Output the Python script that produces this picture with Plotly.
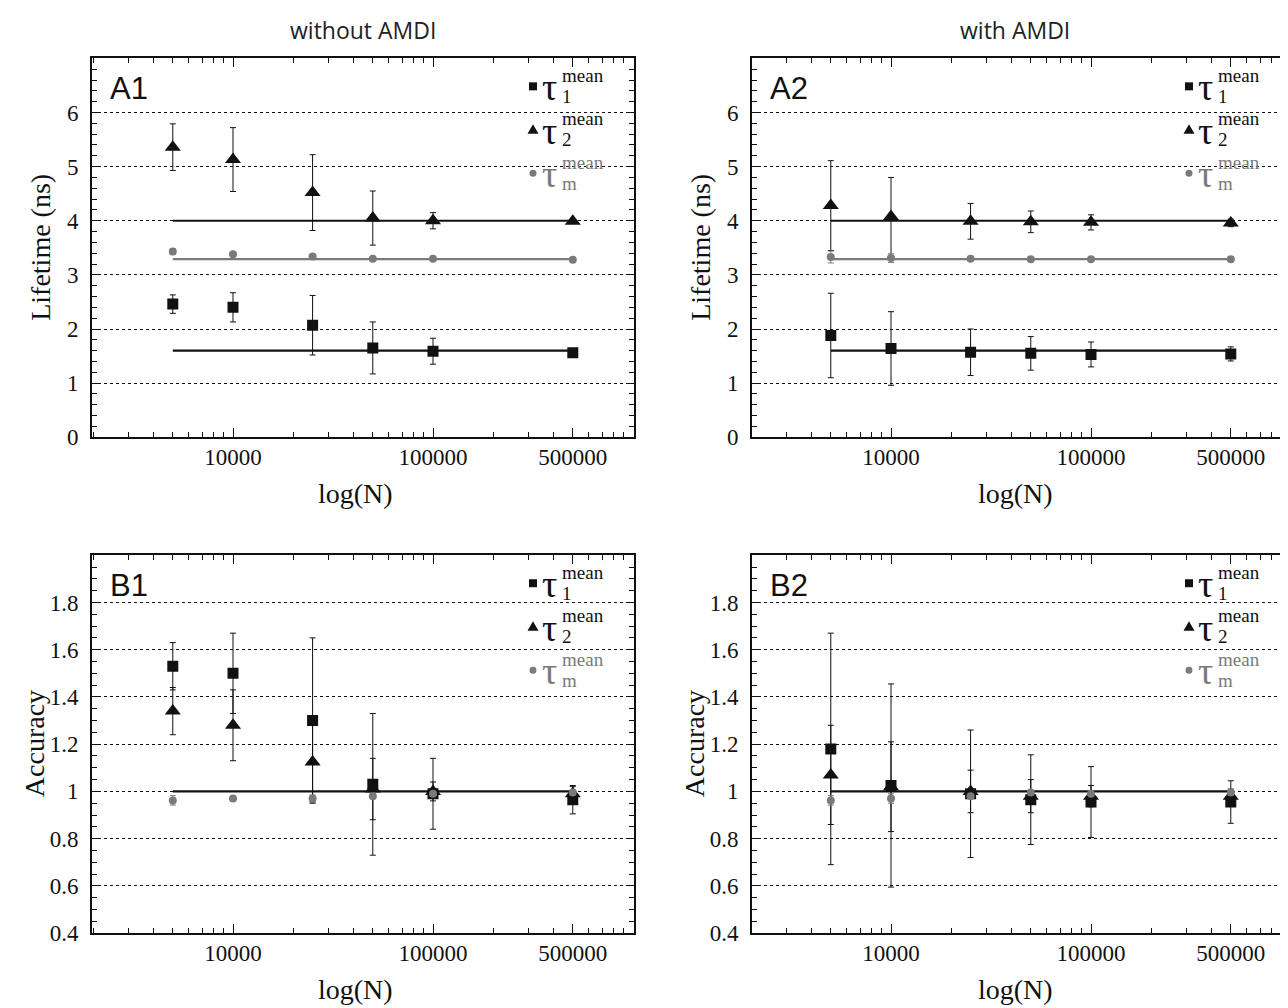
import plotly.graph_objects as go
from plotly.subplots import make_subplots

# ---------------- data ----------------
N = [5000, 10000, 25000, 50000, 100000, 500000]

# A1: lifetimes without AMDI (ns)
a1_tau1 = [2.46, 2.40, 2.07, 1.65, 1.59, 1.56]
a1_tau1_err = [0.17, 0.27, 0.55, 0.48, 0.24, 0.05]
a1_tau2 = [5.36, 5.13, 4.52, 4.05, 4.00, 3.99]
a1_tau2_err = [0.43, 0.59, 0.70, 0.50, 0.15, 0.03]
a1_taum = [3.43, 3.38, 3.34, 3.30, 3.30, 3.28]
a1_taum_err = [0.05, 0.02, 0.02, 0.01, 0.01, 0.01]

# A2: lifetimes with AMDI (ns)
a2_tau1 = [1.88, 1.64, 1.57, 1.55, 1.53, 1.54]
a2_tau1_err = [0.78, 0.68, 0.43, 0.31, 0.23, 0.13]
a2_tau2 = [4.28, 4.08, 3.99, 3.98, 3.97, 3.96]
a2_tau2_err = [0.83, 0.72, 0.33, 0.20, 0.14, 0.07]
a2_taum = [3.33, 3.31, 3.30, 3.29, 3.29, 3.29]
a2_taum_err = [0.11, 0.08, 0.02, 0.01, 0.01, 0.01]

# B1: accuracy without AMDI
b1_tau1 = [1.53, 1.50, 1.30, 1.03, 0.99, 0.965]
b1_tau1_err = [0.10, 0.17, 0.35, 0.30, 0.15, 0.06]
b1_tau2 = [1.34, 1.28, 1.125, 1.01, 1.00, 0.99]
b1_tau2_err = [0.10, 0.15, 0.17, 0.13, 0.04, 0.03]
b1_taum = [0.962, 0.97, 0.97, 0.98, 0.99, 0.995]
b1_taum_err = [0.02, 0.01, 0.015, 0.01, 0.01, 0.01]

# B2: accuracy with AMDI
b2_tau1 = [1.18, 1.025, 0.99, 0.965, 0.955, 0.955]
b2_tau1_err = [0.49, 0.43, 0.27, 0.19, 0.15, 0.09]
b2_tau2 = [1.07, 1.02, 1.00, 0.98, 0.98, 0.98]
b2_tau2_err = [0.21, 0.19, 0.09, 0.07, 0.045, 0.03]
b2_taum = [0.962, 0.97, 0.98, 0.995, 0.99, 0.995]
b2_taum_err = [0.02, 0.02, 0.01, 0.01, 0.01, 0.01]

# true (reference) values
true_tau1 = 1.6
true_tau2 = 4.0
true_taum = 3.29
true_acc = 1.0

x_tickvals = [10000, 100000, 500000]
x_ticktext = ["10000", "100000", "500000"]
x_minor = [2000, 3000, 4000, 5000, 6000, 7000, 8000, 9000,
           20000, 30000, 40000, 50000, 60000, 70000, 80000, 90000,
           200000, 300000, 400000, 500000, 600000, 700000, 800000, 900000]
a_ytick = [0, 1, 2, 3, 4, 5, 6]
b_ytick = [0.4, 0.6, 0.8, 1.0, 1.2, 1.4, 1.6, 1.8]
b_yticktext = ["0.4", "0.6", "0.8", "1", "1.2", "1.4", "1.6", "1.8"]

col_titles = ["without AMDI", "with AMDI"]
panel_labels = ["A1", "A2", "B1", "B2"]

# ---------------- layout geometry (target screenshot pixels) ----------------
OFF = 8          # page body margin
VS = 0.98743     # observed vertical scale of the capture
VB = -0.27
W, H = 1288 - 2 * OFF, 1014
RMAX = OFF + W
panels = {
    (1, 1): dict(L=92, R=634, T=58, B=437),
    (1, 2): dict(L=752, R=RMAX, T=58, B=437),
    (2, 1): dict(L=92, R=634, T=555, B=933),
    (2, 2): dict(L=752, R=RMAX, T=555, B=933),
}


def page_y(d):
    return (d - VB) / VS - OFF


def px2paper(x, y):
    return (x - OFF) / W, 1 - page_y(y) / H


BLACK = "#111111"
GRAY = "#7a7a7a"
SERIF = "Liberation Serif"

fig = make_subplots(rows=2, cols=2)


def add_panel(row, col, t1, t1e, t2, t2e, tm, tme, refs):
    for val, color in refs:
        fig.add_trace(go.Scatter(x=[N[0], N[-1]], y=[val, val], mode="lines",
                                 line=dict(color=color, width=2.2),
                                 showlegend=False, hoverinfo="skip"), row=row, col=col)
    fig.add_trace(go.Scatter(x=N, y=t1, mode="markers",
                             marker=dict(symbol="square", size=11, color=BLACK),
                             error_y=dict(type="data", array=t1e, color=BLACK, thickness=1, width=3),
                             showlegend=False), row=row, col=col)
    fig.add_trace(go.Scatter(x=N, y=t2, mode="markers",
                             marker=dict(symbol="triangle-up", size=14, color=BLACK),
                             error_y=dict(type="data", array=t2e, color=BLACK, thickness=1, width=3),
                             showlegend=False), row=row, col=col)
    fig.add_trace(go.Scatter(x=N, y=tm, mode="markers",
                             marker=dict(symbol="circle", size=8, color=GRAY),
                             error_y=dict(type="data", array=tme, color=GRAY, thickness=1, width=3),
                             showlegend=False), row=row, col=col)


add_panel(1, 1, a1_tau1, a1_tau1_err, a1_tau2, a1_tau2_err, a1_taum, a1_taum_err,
          [(true_tau2, BLACK), (true_taum, GRAY), (true_tau1, BLACK)])
add_panel(1, 2, a2_tau1, a2_tau1_err, a2_tau2, a2_tau2_err, a2_taum, a2_taum_err,
          [(true_tau2, BLACK), (true_taum, GRAY), (true_tau1, BLACK)])
add_panel(2, 1, b1_tau1, b1_tau1_err, b1_tau2, b1_tau2_err, b1_taum, b1_taum_err,
          [(true_acc, BLACK)])
add_panel(2, 2, b2_tau1, b2_tau1_err, b2_tau2, b2_tau2_err, b2_taum, b2_taum_err,
          [(true_acc, BLACK)])

tickfont = dict(family=SERIF, size=23, color=BLACK)

for (row, col), p in panels.items():
    xdom = [(p["L"] - OFF) / W, min(1.0, (p["R"] - OFF) / W)]
    ydom = [1 - page_y(p["B"]) / H, 1 - page_y(p["T"]) / H]
    width_px = p["R"] - p["L"]
    x0 = 3.295 if col == 1 else 3.305
    xr = [x0, x0 + width_px / 200.0]
    fig.update_xaxes(row=row, col=col, domain=xdom, type="log", range=xr,
                     tickvals=x_tickvals, ticktext=x_ticktext, tickfont=tickfont,
                     ticks="inside", ticklen=9, tickwidth=1.3, tickcolor=BLACK,
                     minor=dict(tickvals=x_minor, ticks="inside", ticklen=5, tickwidth=1.2,
                                tickcolor=BLACK, showgrid=False),
                     showline=True, linecolor=BLACK, linewidth=2, mirror="ticks",
                     showgrid=False, zeroline=False, ticklabelstandoff=-2)
    if row == 1:
        yk = dict(range=[0, 7], tickvals=a_ytick, ticktext=[str(v) for v in a_ytick],
                  minor=dict(dtick=0.2, tick0=0, ticks="inside", ticklen=5, tickwidth=1.2,
                             tickcolor=BLACK, showgrid=False))
    else:
        yk = dict(range=[0.4, 2.0], tickvals=b_ytick, ticktext=b_yticktext,
                  minor=dict(dtick=0.05, tick0=0.4, ticks="inside", ticklen=5, tickwidth=1.2,
                             tickcolor=BLACK, showgrid=False))
    fig.update_yaxes(row=row, col=col, domain=ydom, tickfont=tickfont,
                     ticks="inside", ticklen=7, tickwidth=1.3, tickcolor=BLACK,
                     showline=True, linecolor=BLACK, linewidth=2,
                     mirror=("ticks" if col == 1 else False),
                     showgrid=True, gridcolor=BLACK, gridwidth=1.4, griddash="dot",
                     zeroline=False, ticklabelstandoff=7, **yk)

annotations = []
shapes = []

# column titles
for txt, cx in zip(col_titles, [363, 1015]):
    x, y = px2paper(cx, 30)
    annotations.append(dict(text=txt, x=x, y=y, xref="paper", yref="paper",
                            xanchor="center", yanchor="middle", showarrow=False,
                            font=dict(family="Open Sans", size=23, color="#222222")))

for idx, ((row, col), p) in enumerate(panels.items()):
    L, T, B = p["L"], p["T"], p["B"]
    # panel label
    x, y = px2paper(L + 16, T + 30)
    annotations.append(dict(text=panel_labels[idx], x=x, y=y, xref="paper", yref="paper",
                            xanchor="left", yanchor="middle", showarrow=False,
                            font=dict(family="Liberation Sans", size=31, color=BLACK)))
    # y title
    ytitle = "Lifetime (ns)" if row == 1 else "Accuracy"
    xoff = 51 if row == 1 else 58
    x, y = px2paper(L - xoff, (T + B) / 2)
    annotations.append(dict(text=ytitle, x=x, y=y, xref="paper", yref="paper",
                            xanchor="center", yanchor="middle", showarrow=False, textangle=-90,
                            font=dict(family=SERIF, size=28, color=BLACK)))
    # x title
    x, y = px2paper(L + 263, B + 56)
    annotations.append(dict(text="log(N)", x=x, y=y, xref="paper", yref="paper",
                            xanchor="center", yanchor="middle", showarrow=False,
                            font=dict(family=SERIF, size=28, color=BLACK)))
    # legend
    subs = ["1", "2", "m"]
    colors = [BLACK, BLACK, GRAY]
    for k in range(3):
        cy = T + 28 + k * 43.5
        mx = L + 441 - (4 if col == 2 else 0)
        c = colors[k]
        if k == 0:
            x0p, y0p = px2paper(mx - 4, cy - 4)
            x1p, y1p = px2paper(mx + 4, cy + 4)
            shapes.append(dict(type="rect", xref="paper", yref="paper", x0=x0p, y0=y0p,
                               x1=x1p, y1=y1p, fillcolor=c, line=dict(width=0)))
        elif k == 1:
            a = px2paper(mx - 5.5, cy + 4)
            b = px2paper(mx + 5.5, cy + 4)
            tp = px2paper(mx, cy - 5.5)
            shapes.append(dict(type="path", xref="paper", yref="paper",
                               path=f"M {a[0]} {a[1]} L {b[0]} {b[1]} L {tp[0]} {tp[1]} Z",
                               fillcolor=c, line=dict(width=0)))
        else:
            x0p, y0p = px2paper(mx - 3.5, cy - 3.5)
            x1p, y1p = px2paper(mx + 3.5, cy + 3.5)
            shapes.append(dict(type="circle", xref="paper", yref="paper", x0=x0p, y0=y0p,
                               x1=x1p, y1=y1p, fillcolor=c, line=dict(width=0)))
        x, y = px2paper(mx + 7, cy + 1)
        annotations.append(dict(text="τ", x=x, y=y, xref="paper", yref="paper",
                                xanchor="left", yanchor="middle", showarrow=False,
                                font=dict(family=SERIF, size=38, color=c)))
        x, y = px2paper(mx + 27, cy - 11)
        annotations.append(dict(text="mean", x=x, y=y, xref="paper", yref="paper",
                                xanchor="left", yanchor="middle", showarrow=False,
                                font=dict(family=SERIF, size=19, color=c)))
        x, y = px2paper(mx + 27, cy + 10)
        annotations.append(dict(text=subs[k], x=x, y=y, xref="paper", yref="paper",
                                xanchor="left", yanchor="middle", showarrow=False,
                                font=dict(family=SERIF, size=19, color=c)))

fig.update_layout(width=W, height=H, margin=dict(l=0, r=0, t=0, b=0),
                  paper_bgcolor="white", plot_bgcolor="white", showlegend=False,
                  annotations=annotations, shapes=shapes)

fig.write_html("out.html")
